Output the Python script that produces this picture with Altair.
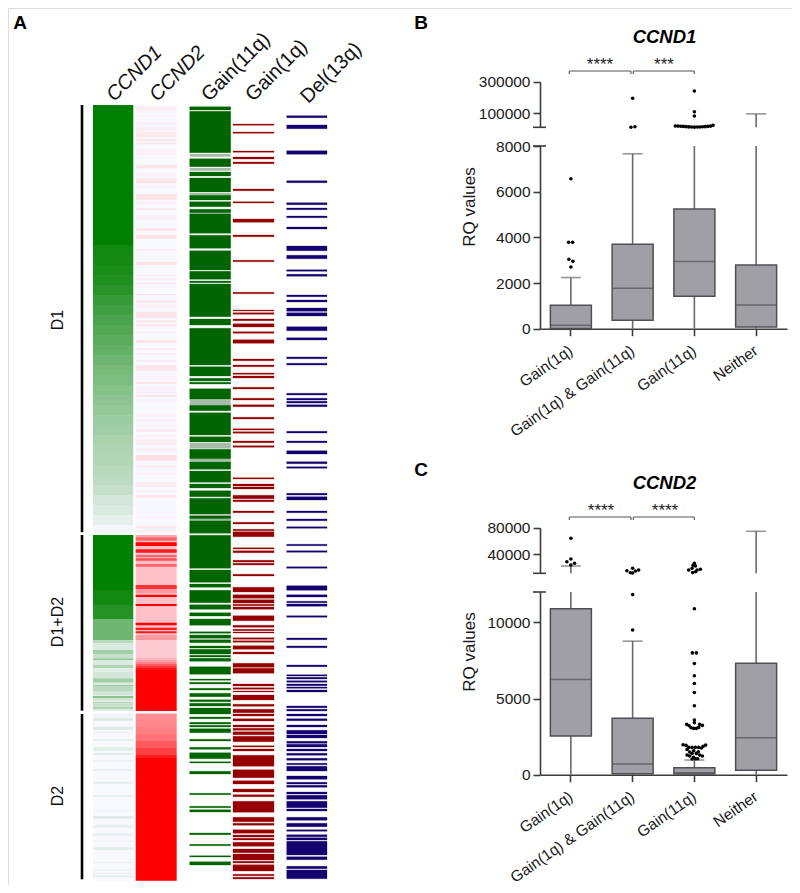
import altair as alt
import pandas as pd

FONT = "Liberation Sans"
M = 8  # page margin: reference pixel -> chart pixel

# ---------- Panel A: (start row, end row, level) ----------
CCND1_BANDS = [
 (105,245,1),(245,255,.93),(255,265,.92),(265,275,.9),(275,285,.87),(285,295,.83),(295,305,.78),(305,315,.74),
 (315,325,.7),(325,335,.67),(335,345,.63),(345,355,.6),(355,365,.56),(365,375,.52),(375,385,.49),(385,395,.46),
 (395,405,.43),(405,415,.4),(415,425,.37),(425,435,.35),(435,445,.32),(445,455,.3),(455,465,.28),(465,475,.26),
 (475,485,.24),(485,495,.2),(495,505,.15),(505,515,.12),(515,525,.07),(525,532.3,.02),
 (535,590,1),(590,605,.93),(605,619,.85),(619,640,.55),
 (640,643.3,.25),(643.3,645,.15),(645,650,.12),(650,654,.35),(654,658.3,.2),(658.3,660,.4),(660,665,.12),
 (665,668.3,.3),(668.3,671.7,.1),(671.7,678.3,.15),(678.3,682.7,.35),(682.7,685,.12),(685,686.7,.35),
 (686.7,691.7,.25),(691.7,695,.15),(695.7,698,.45),(698,701,.15),(701.7,703.3,.3),(703.3,706.7,.2),
 (706.7,709.3,.3),(709.3,710.7,.15),
 (713.5,880.5,0),(713.5,718.3,.03),(718.3,720.7,.12),(726.7,730,.1),(731.7,733.3,.05),(739.3,741,.08),(747.3,750.7,.1),
 (753.3,755,.1),(760,761.7,.05),(769.3,771,.06),(781.7,783.7,.08),(795,796.7,.08),(810,811.7,.03),
 (816,818.7,.1),(825,827.7,.07),(833.3,835.7,.06),(840,841.7,.03),(847.3,850,.09),(861.7,863.3,.06),
 (869.3,870.7,.05),(872.7,874,.05),(875.3,877.3,.08),
]
CCND2_BANDS = [
 (105,532.3,0),
 (106.7,110.7,.08),(115,116.7,.04),(121.7,125,.05),(126.7,130.7,.06),(131.7,137.3,.1),(139.3,141,.15),(142.7,144.3,.15),
 (149.3,155,.05),(165,168.3,.15),(173.3,176,.05),(178.3,183.3,.13),(185,187.7,.04),(194,200,.13),(201.7,205,.04),
 (208.3,210,.12),(215,220,.05),(228.3,230.7,.15),(235,238.7,.15),(249.3,250.7,.1),(261.7,265,.15),(275,276,.1),
 (278.3,280,.08),(282.7,284,.12),(286.7,288,.05),(294,295.3,.12),
 (300,302.7,.1),(304,308.3,.05),(311.7,318.3,.12),(320,322.7,.1),(324,326.7,.1),(331.7,333.3,.05),(340,342.7,.15),
 (348.3,350,.1),(353.3,355,.1),(360,362,.07),(365,370.7,.12),(376,380,.04),(381.7,384,.13),(387.3,390.7,.05),
 (391.7,393.3,.08),(395,396.7,.15),(399,401.7,.03),(413.3,416.7,.05),(419.3,421.7,.07),(425,426.7,.04),(429.3,431.7,.1),
 (435,436.7,.06),(439.3,445,.07),(448.3,450.7,.07),(455,460.7,.16),(465,468.3,.07),(471.7,475,.05),(481.7,487.3,.07),
 (490,491.7,.05),(495,497.7,.13),(511.7,513.3,.05),(516.7,518.3,.05),(526,528.3,.1),(530,532.3,.08),
 (535,640,.25),(535,537.3,.35),(537.3,540.7,.6),(542.3,546,1),(549.3,552.7,.9),(555,557.3,.6),(558.3,560.7,.7),
 (564,566.7,.6),(585,589.3,.8),(590,593.3,.4),(594.7,597,1),(604,606,1),(622.7,625.3,1),(627.7,630,.9),(631.3,633.3,.9),
 (635,640,.4),(640,658,.22),(658,660,.28),(660,662,.38),(662,664,.5),(664,666,.65),(666,668,.8),(668,670,.92),
 (670,711,1),
 (713.5,720,.45),(720,727,.47),(727,734,.5),(734,741,.55),(741,748,.65),(748,755,.75),(755,758,.9),(758,880.7,1),
]
GAIN11_BANDS = [
 (106.7,110),(111.3,152.7),(158.7,166.7),(172,176),(178,192),(195.3,200),(201.7,206.7),(209.3,212.7),(214,233.3),
 (235.3,248.3),(250.7,270),(271.3,279.3),(281,282.7),(284,316.7),(319,325),(328.3,365),(366.7,376),(378.3,381),
 (382.3,384),(388.7,399.3),(405.3,410.7),(412.7,435),(436.7,442),(449.3,458.7),(461.7,469.3),(471,482.3),(484,488),
 (490.7,496.7),(498.3,514),(516,518.7),(520.7,533.3),(535.3,568.3),(570,582.3),(584,587.3),(590.3,602.7),(604.7,609.3),
 (612.7,616),(619,625.3),(631.7,633.3),(635,638.3),(639.7,642.7),(646,648),(649.3,654),(655.3,657),(658.3,661.3),
 (666.7,674.3),(679,680.3),(682.3,684),(688.3,690),(693.3,696.7),(699.7,701.7),(703.3,706),(708,714),(717,718.7),
 (722.3,724),(725.3,727),(728.7,732.7),(739.3,741),(747.3,749.3),(752.7,758.7),(761.7,763),(771.3,774),(793.3,794.7),
 (806.3,807.7),(809.7,812),(833,834.7),(844.3,845.7),(855.7,857),(861.7,865),
]
GAIN11_FAINT = [(154,156.7),(168,170.7),(193,195),(213,214),(400,405),(443,448.5),(459,461),(514.5,516),(519,520.5)]
GAIN1_BANDS = [
 (124,125.3),(132,133.3),(151,152.3),(157,159),(162,163.7),(189,190.7),(201.7,203),(219,222.3),(235,236.7),(260.3,261.7),
 (292.3,293.7),(310,311),(312.7,314.3),(319,320.7),(323.7,327),(331.7,333.3),(339.7,343.3),(359,360.7),(365,366.7),
 (373,374.3),(376,378),(387.3,389),(398.3,400),(404.7,406.7),(417.3,419),(428.7,430),(431.7,433.3),(441,442.7),
 (445.7,447.3),(477.7,479),(484,486),(487,489),(495.3,498.7),(500,501.7),(511,512.7),(522.3,524),(529.3,530.7),
 (531.7,536.7),(547.7,549),(550.7,552.7),(560.3,562),(563.3,565),(574.3,576),(587.3,592),(594.7,598.3),(599.7,603),
 (604.3,605.7),(607,609.3),(615.7,620.7),(625.3,627.3),(629.3,630.7),(632,633),(637.7,639.3),(640.7,642.3),(645.7,649.3),
 (652,654),(663.3,667.3),(668.3,673.3),(684,686),(687.7,689.3),(691,692),(695,700),(704.3,706.3),(709.3,712.7),(714,716),
 (718.7,721),(725,727),(728.3,730.3),(731.7,734.7),(736.3,741.7),(745.7,747),(749,751),(755.3,766.3),(769.7,777.7),
 (780.7,784),(789,792),(794.7,796.7),(801.3,812.3),(817.3,821.7),(823.3,825.3),(829.7,833.3),(835,837),(838.3,840),
 (842.3,846.3),(849,852.7),(854,860),(861.3,863),(864.7,871),(874.3,875.7),(877.3,879),
]
DEL13_BANDS = [
 (115.7,117.7),(125,128.7),(150.7,154.3),(180.7,182.7),(202.7,204.7),(208,209.7),(216,217.7),(227,229),(246,250.7),
 (255.3,258.7),(269.7,271.3),(274.3,276.3),(295,296.7),(300,302),(308,311.3),(312.7,316),(326.7,330.7),(337.7,340),
 (357,358.7),(363.3,365),(393.3,395),(398.3,400),(401.3,403),(404.7,406.7),(431.3,433),(441,442.7),(450.7,454),
 (461.7,463.7),(466.7,468.3),(493.3,495),(496.7,500),(511,512.7),(519,520.7),(526.7,528.3),(544.3,545.7),(550.7,552.3),
 (566.7,568.3),(585.7,590.3),(594.7,597),(601.3,602.7),(604,606.3),(615.7,617.3),(638,639.7),(646,647.7),(665,666.7),
 (674.7,676),(677.3,679),(680.7,682.3),(684,685.7),(687,688.3),(690,692),(706,707.7),(709.3,711),(714,716),(718.7,720.7),
 (725,727),(730.3,734),(735,738),(741.3,743.3),(744.3,747),(749,751),(753.3,755.3),(758.3,760.3),(763.3,764.7),(766.3,771),
 (776,779.3),(782.3,784),(785.3,787.3),(792,794),(795.3,799.3),(801.3,807.7),(809,811),(817.3,820.3),(823.3,826.7),
 (829.7,831.3),(834.7,836.7),(837.7,840),(841.3,855),(856.7,859.7),(866.3,868.7),(870,878.7),
]
GROUP_SPANS = [(105,532.3),(535,710.7),(714,879.3)]
HEADERS = ["CCND1", "CCND2", "Gain(11q)", "Gain(1q)", "Del(13q)"]
GROUPS = ["D1", "D1+D2", "D2"]

# ---------- Panels B and C ----------
CATS = ["Gain(1q)", "Gain(1q) & Gain(11q)", "Gain(11q)", "Neither"]
B_Q1 = [10, 370, 1420, 70]
B_MED = [150, 1770, 2940, 1040]
B_Q3 = [1026, 3700, 5240, 2790]
B_LOW = [0, 0, 0, 0]
B_HIGH = [2240, 7660, 8000, 96000]
B_DOTS = [
 ("Gain(1q)",6566,0),("Gain(1q)",3780,-2.3),("Gain(1q)",3780,1.7),("Gain(1q)",3040,-2),("Gain(1q)",2950,2),("Gain(1q)",2700,0),
 ("Gain(1q) & Gain(11q)",195000,0),("Gain(1q) & Gain(11q)",11600,-1.7),("Gain(1q) & Gain(11q)",15200,2.3),
 ("Gain(11q)",241000,0),("Gain(11q)",110000,0),("Gain(11q)",83000,0),
 ("Gain(11q)",19600,-19),("Gain(11q)",19000,-16.3),("Gain(11q)",18000,-13.6),("Gain(11q)",17000,-11),("Gain(11q)",15500,-8.2),
 ("Gain(11q)",14000,-5.5),("Gain(11q)",13000,-2.8),("Gain(11q)",12500,0),("Gain(11q)",13000,2.7),("Gain(11q)",13500,5.4),
 ("Gain(11q)",14500,8.1),("Gain(11q)",15500,10.8),("Gain(11q)",17000,13.5),("Gain(11q)",19000,16.2),("Gain(11q)",24000,18.7),
]
C_Q1 = [2540, 60, 40, 290]
C_MED = [6260, 700, 130, 2430]
C_Q3 = [10900, 3700, 460, 7320]
C_LOW = [0, 0, 0, 0]
C_HIGH = [22400, 8770, 965, 74600]
C_DOTS = [
 ("Gain(1q)",64050,0),("Gain(1q)",32940,0),("Gain(1q)",28880,-4),("Gain(1q)",26470,3.7),("Gain(1q)",23900,0),
 ("Gain(1q) & Gain(11q)",11830,0),("Gain(1q) & Gain(11q)",9500,0),("Gain(1q) & Gain(11q)",15350,-5.7),("Gain(1q) & Gain(11q)",12340,-2.3),
 ("Gain(1q) & Gain(11q)",18960,0),("Gain(1q) & Gain(11q)",14850,2.7),("Gain(1q) & Gain(11q)",16400,6),
 ("Gain(11q)",26470,0),("Gain(11q)",23460,-1.3),("Gain(11q)",22410,1),("Gain(11q)",16400,-5.7),("Gain(11q)",18960,-2.3),
 ("Gain(11q)",16400,2.7),("Gain(11q)",17450,6),("Gain(11q)",12500,-1.7),("Gain(11q)",13850,1.3),("Gain(11q)",10900,0),
 ("Gain(11q)",8000,-2),("Gain(11q)",8000,2),("Gain(11q)",7300,0),("Gain(11q)",6495,0),("Gain(11q)",5990,0),("Gain(11q)",5400,0),
 ("Gain(11q)",4526,0),("Gain(11q)",3586,0),("Gain(11q)",3411,0),("Gain(11q)",3302,-7.7),("Gain(11q)",3215,-5.3),("Gain(11q)",3302,5.3),
 ("Gain(11q)",3237,8),("Gain(11q)",3084,-3.3),("Gain(11q)",3040,-.7),("Gain(11q)",3040,2),("Gain(11q)",3106,4.3),
 ("Gain(11q)",1968,-11.3),("Gain(11q)",1925,-8.3),("Gain(11q)",1946,11.3),("Gain(11q)",1859,8.7),("Gain(11q)",1793,-5.7),
 ("Gain(11q)",1793,-2.3),("Gain(11q)",1793,1),("Gain(11q)",1793,4.3),("Gain(11q)",1750,7),("Gain(11q)",1662,-7.3),("Gain(11q)",1575,-.7),
 ("Gain(11q)",1487,-4.7),("Gain(11q)",1509,4),("Gain(11q)",1400,-2.3),("Gain(11q)",1400,2),("Gain(11q)",1290,-7.3),("Gain(11q)",1225,-4.7),
 ("Gain(11q)",1290,5.3),("Gain(11q)",1225,8),("Gain(11q)",1137,-.7),("Gain(11q)",1050,1.3),("Gain(11q)",1028,-2.3),("Gain(11q)",1050,3.3),
]

W, H = 784, 877
PLOT_X0, PLOT_X1 = 540, 787
HALF_BAND = (PLOT_X1 - PLOT_X0) / len(CATS) / 2
BOX_FILL, BOX_LINE, WHISKER, AXIS = "#a09fa5", "#505054", "#6a6a6e", "#3c3c3c"

def label(text, x, y, size=15, **kw):
    return alt.Chart(pd.DataFrame({"t": [text]})).mark_text(font=FONT, fontSize=size, **kw).encode(
        text="t:N", x=alt.value(x - M), y=alt.value(y - M))

heat_y = alt.Scale(domain=[105, 881], range=[105 - M, 881 - M], nice=False, zero=False)
Y = alt.Y("s:Q", scale=heat_y, axis=None)
Y2 = alt.Y2("e:Q")

def track(rows, x0, x1, color, edge=0.0):
    df = pd.DataFrame(rows, columns=["s", "e"])
    return alt.Chart(df).mark_rect(color=color, stroke=color, strokeWidth=edge).encode(
        x=alt.value(x0 - M), x2=alt.value(x1 - M), y=Y, y2=Y2)

def level_track(rows, x0, x1, domain, colors):
    df = pd.DataFrame(rows, columns=["s", "e", "v"])
    return alt.Chart(df).mark_rect().encode(
        x=alt.value(x0 - M), x2=alt.value(x1 - M), y=Y, y2=Y2,
        color=alt.Color("v:Q", legend=None,
                        scale=alt.Scale(domain=domain, range=colors, interpolate="rgb")))

def box_scale(domain, r):
    return alt.Scale(domain=domain, range=r, nice=False, zero=False, clamp=True)

def xaxis(offset):
    return alt.Axis(orient="bottom", offset=offset, title=None, labelAngle=325, labelFont=FONT, labelFontSize=15.5,
                    labelColor="#1a1a1a", labelPadding=7, labelOffset=-4, labelOverlap=False, domainColor=AXIS, domainWidth=1.6,
                    tickColor=AXIS, tickWidth=1.6, tickSize=7, grid=False, labelLimit=300)

X_SCALE = alt.Scale(type="band", domain=CATS, range=[PLOT_X0 - M, PLOT_X1 - M], paddingInner=0, paddingOuter=0)

def yaxis(values):
    return alt.Axis(orient="left", offset=-(PLOT_X0 - M), title=None, values=values, format="d", labelFont=FONT,
                    labelFontSize=15.5, labelColor="#1a1a1a", labelPadding=3, labelOverlap=False, domainColor=AXIS,
                    domainWidth=1.6, tickColor=AXIS, tickWidth=1.6, tickSize=7, grid=False)

def panel(q1, med, q3, low, high, dots, up_dom, up_vals, up_px, lo_dom, lo_vals, lo_px):
    stats = pd.DataFrame({"c": CATS, "q1": q1, "med": med, "q3": q3, "low": low, "high": high})
    dd = pd.DataFrame(dots, columns=["c", "v", "dx"])
    dd["off"] = dd["dx"] + HALF_BAND
    ys_u = box_scale(up_dom, [up_px[1] - M, up_px[0] - M])
    ys_l = box_scale(lo_dom, [lo_px[1] - M, lo_px[0] - M])
    ya_u, ya_l = yaxis(up_vals), yaxis(lo_vals)
    xa_l = xaxis(lo_px[1] - M - H)
    Xu = alt.X("c:N", scale=X_SCALE, axis=None)
    Xl = alt.X("c:N", scale=X_SCALE, axis=xa_l)
    OFF = alt.XOffset("off:Q", scale=None)
    upper_rows = stats[stats.high > up_dom[0]]
    lower_caps = stats[stats.high < lo_dom[1]]
    upper = alt.layer(
        alt.Chart(upper_rows).mark_rule(color=WHISKER, strokeWidth=1.6).encode(
            x=Xu, y=alt.Y("high:Q", scale=ys_u, axis=ya_u), y2=alt.Y2(datum=up_dom[0])),
        alt.Chart(upper_rows).mark_tick(color=WHISKER, size=20, thickness=1.6, orient="horizontal").encode(
            x=Xu, y=alt.Y("high:Q", scale=ys_u, axis=ya_u)),
        alt.Chart(dd[dd.v > up_dom[0]]).mark_point(filled=True, color="#000", size=13, opacity=1).encode(
            x=Xu, xOffset=OFF, y=alt.Y("v:Q", scale=ys_u, axis=ya_u)),
        alt.Chart(pd.DataFrame({"b": [up_dom[0]]})).mark_rule(color=AXIS, strokeWidth=1.6).encode(
            x=alt.value(533 - M), x2=alt.value(546 - M), y=alt.Y("b:Q", scale=ys_u, axis=ya_u)),
    )
    lower = alt.layer(
        alt.Chart(stats).mark_rule(color=WHISKER, strokeWidth=1.6).encode(
            x=Xl, y=alt.Y("low:Q", scale=ys_l, axis=ya_l), y2=alt.Y2("high:Q")),
        alt.Chart(lower_caps).mark_tick(color=WHISKER, size=20, thickness=1.6, orient="horizontal").encode(
            x=Xl, y=alt.Y("high:Q", scale=ys_l, axis=ya_l)),
        alt.Chart(stats).mark_bar(size=41, color=BOX_FILL, stroke=BOX_LINE, strokeWidth=1.5).encode(
            x=Xl, y=alt.Y("q1:Q", scale=ys_l, axis=ya_l), y2=alt.Y2("q3:Q")),
        alt.Chart(stats).mark_tick(color=BOX_LINE, size=41, thickness=1.5, orient="horizontal").encode(
            x=Xl, y=alt.Y("med:Q", scale=ys_l, axis=ya_l)),
        alt.Chart(dd[dd.v < lo_dom[1]]).mark_point(filled=True, color="#000", size=13, opacity=1).encode(
            x=Xl, xOffset=OFF, y=alt.Y("v:Q", scale=ys_l, axis=ya_l)),
        alt.Chart(pd.DataFrame({"b": [lo_dom[1]]})).mark_rule(color=AXIS, strokeWidth=1.6).encode(
            x=alt.value(533 - M), x2=alt.value(546 - M), y=alt.Y("b:Q", scale=ys_l, axis=ya_l)),
    )
    return [upper, lower]

def hrule(x0, x1, y):
    return alt.Chart(pd.DataFrame({"a": [0]})).mark_rule(color="#555", strokeWidth=1.1).encode(
        x=alt.value(x0 - M), x2=alt.value(x1 - M), y=alt.value(y - M))

def vrule(x, y0, y1):
    return alt.Chart(pd.DataFrame({"a": [0]})).mark_rule(color="#555", strokeWidth=1.1).encode(
        x=alt.value(x - M), y=alt.value(y0 - M), y2=alt.value(y1 - M))

def bracket(x0, x1, y):
    return [hrule(x0, x1, y), vrule(x0, y, y + 3), vrule(x1, y, y + 3)]

layers = [
    level_track(CCND1_BANDS, 93, 133.3, [0, 1], ["#f8f8ff", "#008000"]),
    level_track(CCND2_BANDS, 135.7, 176.7, [0, .15, .25, 1], ["#f8f8ff", "#fde2e6", "#ffc0c8", "#ff0000"]),
    track(GAIN11_FAINT, 189.7, 230.7, "#a9bba9"),
    track(GAIN11_BANDS, 189.7, 230.7, "#006400", 0.3),
    track(GAIN1_BANDS, 233, 274, "#960000", 0.3),
    track(DEL13_BANDS, 286.7, 327, "#14006e", 0.3),
    alt.Chart(pd.DataFrame(GROUP_SPANS, columns=["s", "e"])).mark_rule(color="#000", strokeWidth=2.6).encode(
        x=alt.value(82 - M), y=Y, y2=Y2),
]
for t, x, y, st in zip(HEADERS, [110, 153, 205, 249, 304], [98, 98, 98, 98, 100],
                       ["italic", "italic", "normal", "normal", "normal"]):
    layers.append(label(t, x, y, size=20, angle=315, align="left", baseline="middle", fontStyle=st, color="#111"))
for t, y in zip(GROUPS, [320, 622, 796]):
    layers.append(label(t, 58, y, size=16, angle=270, align="center", baseline="middle", color="#111"))
for t, x, y in [("A", 20, 23), ("B", 421, 23), ("C", 421, 470)]:
    layers.append(label(t, x, y, size=19, fontWeight="bold", align="center", baseline="middle", color="#000"))

layers += panel(B_Q1, B_MED, B_Q3, B_LOW, B_HIGH, B_DOTS, [11400, 300000], [100000, 300000], (81.7, 127.3),
                [0, 8000], [0, 2000, 4000, 6000, 8000], (146, 328.7))
layers += panel(C_Q1, C_MED, C_Q3, C_LOW, C_HIGH, C_DOTS, [11440, 80000], [40000, 80000], (527.7, 573.3),
                [0, 12000], [0, 5000, 10000], (592, 774.7))

layers += bracket(569.3, 631, 71) + bracket(633.3, 694.3, 71) + bracket(569.3, 631, 517) + bracket(633.3, 694.3, 517)
for t, x, y in [("****", 600, 65), ("***", 664, 65), ("****", 601, 511), ("****", 665, 511)]:
    layers.append(label(t, x, y, size=17, align="center", baseline="middle", color="#222"))
layers.append(label("CCND1", 664.5, 37, size=18.5, fontWeight="bold", fontStyle="italic", align="center", baseline="middle", color="#000"))
layers.append(label("CCND2", 664.5, 483, size=18.5, fontWeight="bold", fontStyle="italic", align="center", baseline="middle", color="#000"))
layers.append(label("RQ values", 470, 207, size=17, angle=270, align="center", baseline="middle", color="#1a1a1a"))
layers.append(label("RQ values", 470, 652, size=17, angle=270, align="center", baseline="middle", color="#1a1a1a"))

chart = alt.layer(*layers).resolve_scale(x="independent", y="independent", color="independent").properties(
    width=W, height=H, padding=0, autosize=alt.AutoSizeParams(type="none")
).configure_view(stroke=None).configure(background="white")

chart.save("out.html", embed_options={"renderer": "svg", "actions": False})
